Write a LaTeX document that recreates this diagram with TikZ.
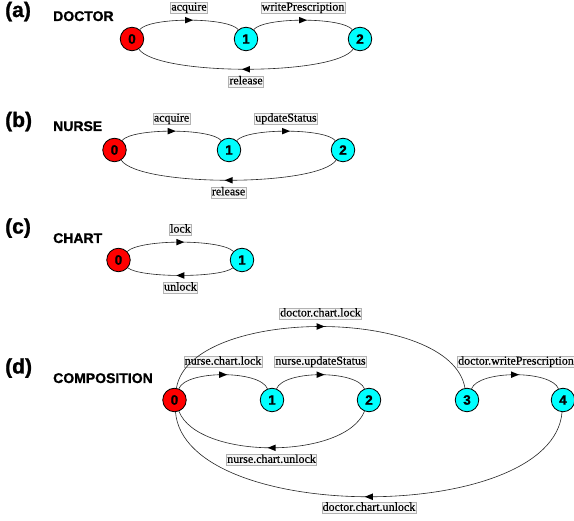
\documentclass[tikz,border=0pt]{standalone}
\usepackage{fontspec}
\setmainfont{Liberation Serif}[FakeBold=0.4]
\newfontfamily\headfont{Liberation Sans}
\newfontfamily\headheavy{Liberation Sans Bold}[FakeBold=1.2]
\usetikzlibrary{decorations.markings}
\definecolor{stred}{RGB}{255,0,0}
\definecolor{stcyan}{RGB}{0,255,255}
\begin{document}
\begin{tikzpicture}[x=1pt,y=-1pt,
  state/.style={circle,draw=black,line width=0.8pt,minimum size=23.5pt,inner sep=0pt,
    font=\headheavy\fontsize{13.5}{14}\selectfont},
  init/.style={state,fill=stred},
  other/.style={state,fill=stcyan},
  trans/.style={line width=0.6pt,draw=black!85,postaction={decorate},
    decoration={markings,mark=at position 0.5 with {\fill[black] (4pt,0pt) -- (-4pt,3.3pt) -- (-4pt,-3.3pt) -- cycle;}}},
  lbl/.style={draw=black!30,fill=black!4,line width=0.5pt,inner sep=0.8pt,
    font=\fontsize{12}{12}\selectfont,text height=7.5pt,text depth=2pt},
  part/.style={anchor=base west,inner sep=0pt,font=\headheavy\fontsize{21}{21}\selectfont},
  heading/.style={anchor=base west,inner sep=0pt,font=\headheavy\fontsize{14}{14}\selectfont}]
\useasboundingbox[fill=white] (0,0) rectangle (574,521);

% ---------- (a) DOCTOR ----------
\node[part] (pa) at (5,17) {(a)};
\node[heading] (ha) at (53,21) {DOCTOR};
\node[init]  (a0) at (132,39) {0};
\node[other] (a1) at (246,39) {1};
\node[other] (a2) at (360,39) {2};
\draw[trans] (a0) .. controls (150,17) and (228,17) .. node[lbl,above=6.5pt,pos=0.5] (la1) {acquire} (a1);
\draw[trans] (a1) .. controls (264,17) and (342,17) .. node[lbl,above=6.5pt,pos=0.5] (la2) {writePrescription} (a2);
\draw[trans] (a2) .. controls (335,76) and (157,76) .. node[lbl,below=6.5pt,pos=0.5] (la3) {release} (a0);

% ---------- (b) NURSE ----------
\node[part] (pb) at (5,127) {(b)};
\node[heading] (hb) at (53,131) {NURSE};
\node[init]  (b0) at (114.5,150) {0};
\node[other] (b1) at (229,150) {1};
\node[other] (b2) at (343,150) {2};
\draw[trans] (b0) .. controls (132,128) and (211,128) .. node[lbl,above=6.5pt,pos=0.5] (lb1) {acquire} (b1);
\draw[trans] (b1) .. controls (247,128) and (325,128) .. node[lbl,above=6.5pt,pos=0.5] (lb2) {updateStatus} (b2);
\draw[trans] (b2) .. controls (318,187) and (139,187) .. node[lbl,below=6.5pt,pos=0.5] (lb3) {release} (b0);

% ---------- (c) CHART ----------
\node[part] (pc) at (5,233.5) {(c)};
\node[heading] (hc) at (53,243) {CHART};
\node[init]  (c0) at (118.5,260) {0};
\node[other] (c1) at (242,260) {1};
\draw[trans] (c0) .. controls (140,239) and (221,239) .. node[lbl,above=6.5pt,pos=0.5] (lc1) {lock} (c1);
\draw[trans] (c1) .. controls (221,278) and (140,278) .. node[lbl,below=6.5pt,pos=0.5] (lc2) {unlock} (c0);

% ---------- (d) COMPOSITION ----------
\node[part] (pd) at (5,373.5) {(d)};
\node[heading] (hd) at (53,383) {COMPOSITION};
\node[init]  (d0) at (174.5,400) {0};
\node[other] (d1) at (272,400) {1};
\node[other] (d2) at (369,400) {2};
\node[other] (d3) at (467,400) {3};
\node[other] (d4) at (563,400) {4};
\draw[trans] (d0) .. controls (186,370) and (260,370) .. node[lbl,above=7pt,pos=0.5] (ld1) {nurse.chart.lock} (d1);
\draw[trans] (d1) .. controls (284,370) and (357,370) .. node[lbl,above=7pt,pos=0.5] (ld2) {nurse.updateStatus} (d2);
\draw[trans] (d3) .. controls (479,370) and (551,370) .. node[lbl,above=7pt,pos=0.5,xshift=1pt] (ld3) {doctor.writePrescription} (d4);
\draw[trans] (d0) .. controls (190,306) and (451,306) .. node[lbl,above=7pt,pos=0.5] (ld4) {doctor.chart.lock} (d3);
\draw[trans] (d2) .. controls (345,460) and (198,460) .. node[lbl,below=6.5pt,pos=0.5] (ld5) {nurse.chart.unlock} (d0);
\draw[trans] (d4) .. controls (553,525) and (185,525) .. node[lbl,below=5.5pt,pos=0.5] (ld6) {doctor.chart.unlock} (d0);
\end{tikzpicture}
\end{document}
